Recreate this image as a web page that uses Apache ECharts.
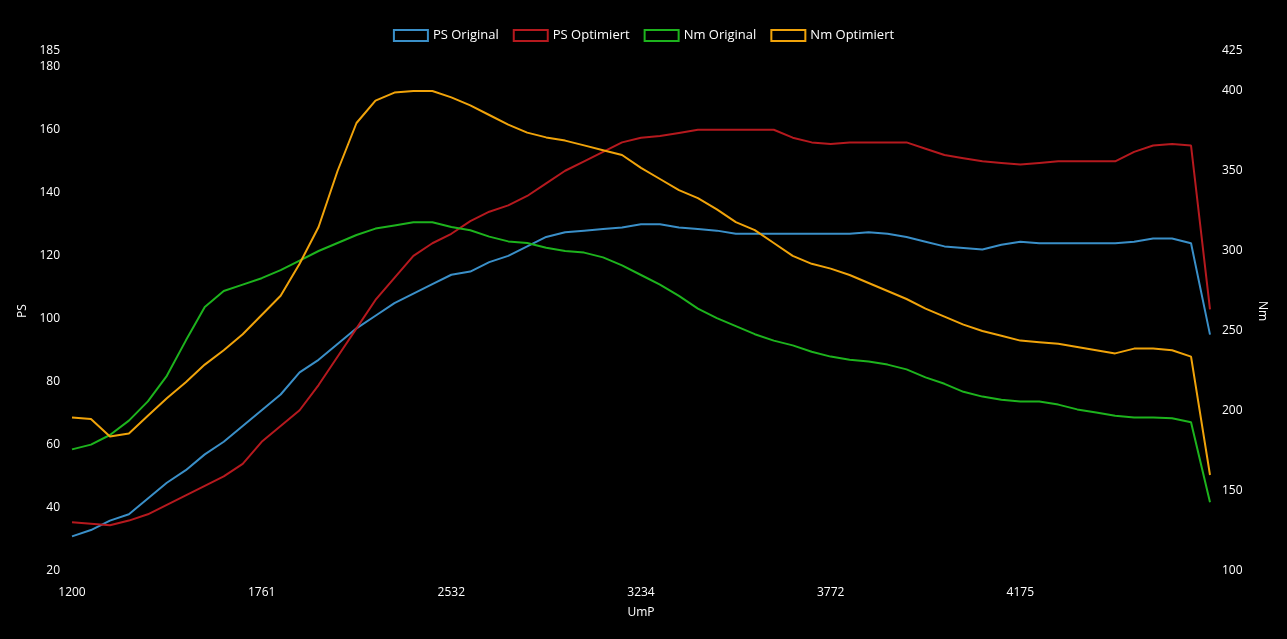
<!DOCTYPE html>
<html>
<head>
<meta charset="utf-8">
<script src="https://cdn.jsdelivr.net/npm/echarts@6/dist/echarts.min.js"></script>
<style>html,body{margin:0;background:#000;}#chart{width:1287px;height:639px;}</style>
</head>
<body>
<div id="chart"></div>
<script>
var rpm = [1200,1256,1312,1368,1424,1480,1536,1592,1648,1705,
	1761,1838,1915,1992,2069,2146,2223,2300,2378,2455,
	2532,2602,2672,2742,2812,2883,2953,3023,3093,3163,
	3234,3288,3342,3396,3450,3503,3557,3611,3665,3718,
	3772,3812,3853,3893,3933,3974,4014,4054,4095,4135,
	4175,4218,4261,4304,4347,4390,4433,4476,4519,4562,4605];
var psOriginal = [31,33,36,38,43,48,52,57,61,66,
	71,76,83,87,92,97,101,105,108,111,
	114,115,118,120,123,126,127.5,128,128.5,129,
	130,130,129,128.5,128,127,127,127,127,127,
	127,127,127.5,127,126,124.5,123,122.5,122,123.5,
	124.5,124,124,124,124,124,124.5,125.5,125.5,124,95];
var psOptimiert = [35.5,35,34.5,36,38,41,44,47,50,54,
	61,66,71,79,88,97,106,113,120,124,
	127,131,134,136,139,143,147,150,153,156,
	157.5,158,159,160,160,160,160,160,157.5,156,
	155.5,156,156,156,156,154,152,151,150,149.5,
	149,149.5,150,150,150,150,153,155,155.5,155,103];
var nmOriginal = [176,179,185,194,206,222,244,265,275,279,
	283,288,294,300,305,310,314,316,318,318,
	315,313,309,306,305,302,300,299,296,291,
	285,279,272,264,258,253,248,244,241,237,
	234,232,231,229,226,221,217,212,209,207,
	206,206,204,201,199,197,196,196,195.5,193,143];
var nmOptimiert = [196,195,184,186,197,208,218,229,238,248,
	260,272,292,315,350,380,394,399,400,400,
	396,391,385,379,374,371,369,366,363,360,
	352,345,338,333,326,318,313,305,297,292,
	289,285,280,275,270,264,259,254,250,247,
	244,243,242,240,238,236,239,239,238,234,160];

var myChart = echarts.init(document.getElementById('chart'));
var txt = {color:'#fff', fontSize:12, fontFamily:'Open Sans'};
function line(name, data, color, axis) {
	return {name:name, type:'line', data:data, yAxisIndex:axis, showSymbol:false,
		lineStyle:{color:color, width:2}, itemStyle:{color:color}};
}
var option = {
	backgroundColor:'#000',
	animation:false,
	legend:{
		top:24, itemWidth:34, itemHeight:11, itemGap:14,
		textStyle:{color:'#fff', fontSize:13, fontFamily:'Open Sans'},
		data:[
			{name:'PS Original', itemStyle:{color:'transparent', borderColor:'#3a8fc8', borderWidth:2}},
			{name:'PS Optimiert', itemStyle:{color:'transparent', borderColor:'#b5191e', borderWidth:2}},
			{name:'Nm Original', itemStyle:{color:'transparent', borderColor:'#1db31d', borderWidth:2}},
			{name:'Nm Optimiert', itemStyle:{color:'transparent', borderColor:'#f0a30a', borderWidth:2}}
		],
		icon:'rect'
	},
	grid:{left:72, right:77, top:51, bottom:68},
	xAxis:{
		type:'category', data:rpm, boundaryGap:false,
		name:'UmP', nameLocation:'middle', nameGap:36, nameTextStyle:txt,
		axisLine:{show:false}, axisTick:{show:false},
		axisLabel:Object.assign({interval:function(i){return i%10===0 && i<60;}, margin:16}, txt)
	},
	yAxis:[{
		type:'value', min:20, max:185, interval:20,
		name:'PS', nameLocation:'middle', nameGap:42, nameTextStyle:txt,
		axisLine:{show:false}, axisTick:{show:false}, splitLine:{show:false},
		axisLabel:Object.assign({margin:12}, txt)
	},{
		type:'value', min:100, max:425, interval:50,
		name:'Nm', nameLocation:'middle', nameGap:46, nameRotate:-90, nameTextStyle:txt,
		axisLine:{show:false}, axisTick:{show:false}, splitLine:{show:false},
		axisLabel:Object.assign({margin:12}, txt)
	}],
	series:[
		line('PS Original', psOriginal, '#3a8fc8', 0),
		line('PS Optimiert', psOptimiert, '#b5191e', 0),
		line('Nm Original', nmOriginal, '#1db31d', 1),
		line('Nm Optimiert', nmOptimiert, '#f0a30a', 1)
	]
};
myChart.setOption(option);
</script>
</body>
</html>
